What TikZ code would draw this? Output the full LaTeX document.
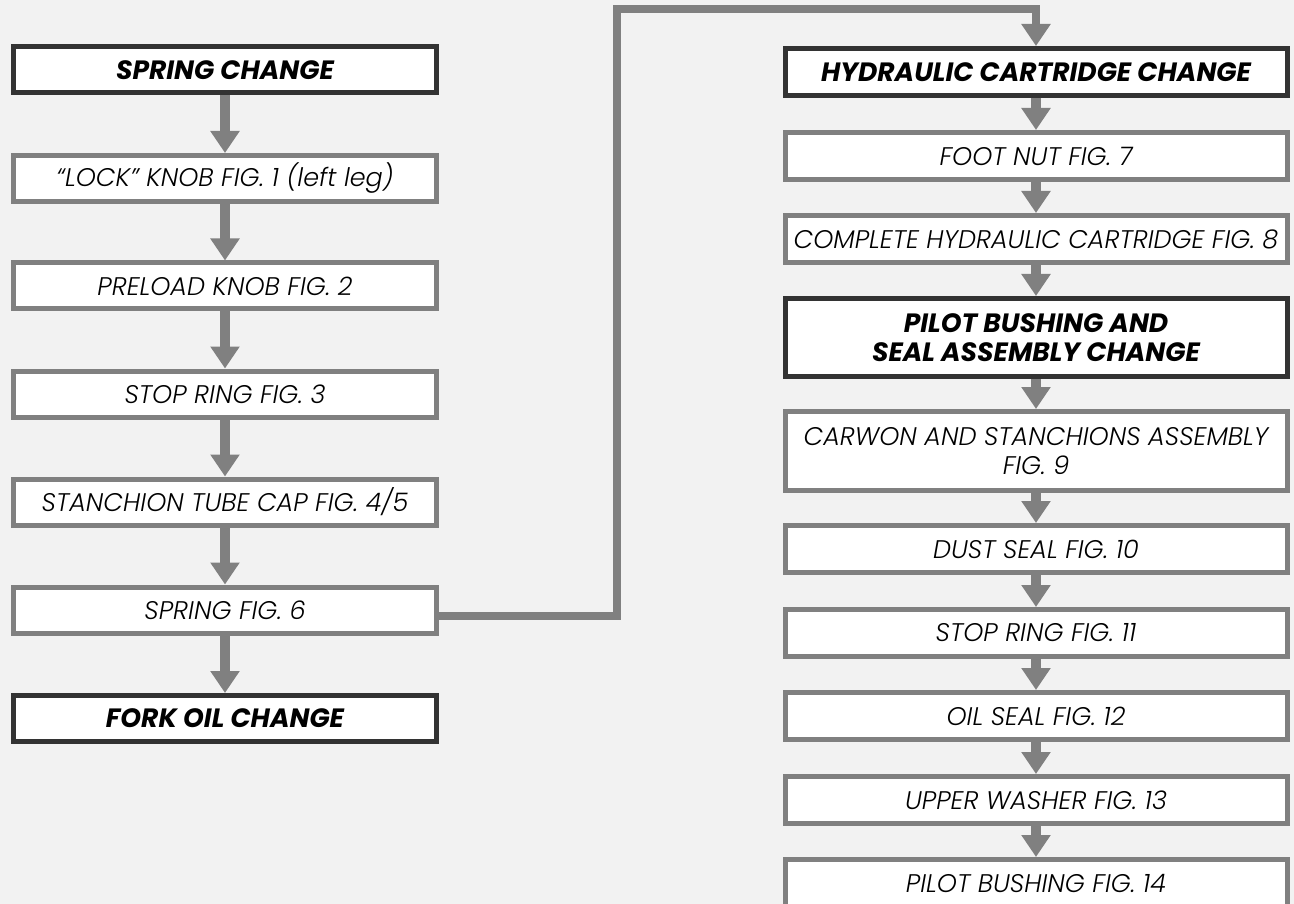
\documentclass[tikz,border=0pt]{standalone}
\usepackage{fontspec}
\usetikzlibrary{arrows.meta}
\IfFontExistsTF{Poppins Light Italic}{%
  \setmainfont{Poppins}[ItalicFont={Poppins Light Italic},BoldItalicFont={Poppins Bold Italic}]%
}{%
  \setmainfont{Poppins}%
}
\definecolor{bgcol}{HTML}{F2F2F2}
\definecolor{boxgray}{HTML}{808080}
\definecolor{boxdark}{HTML}{333333}
\definecolor{arrgray}{HTML}{808080}
\tikzset{
  stepbox/.style={draw=boxgray, fill=white, line width=5pt, inner sep=0pt, align=center,
    font=\fontsize{25.5}{29}\selectfont\itshape},
  headbox/.style={stepbox, draw=boxdark, font=\fontsize{26.5}{29}\selectfont\bfseries\itshape},
  leftcol/.style={minimum width=423pt, minimum height=46pt},
  rightcol/.style={minimum width=502pt, minimum height=47pt},
  arr/.style={draw=arrgray, line width=10pt, -{Triangle[width=28pt,length=22pt]}},
  conn/.style={draw=arrgray, line width=8pt, -{Triangle[width=28pt,length=22pt]}},
}
\begin{document}
\begin{tikzpicture}[x=1pt,y=-1pt]
\path[use as bounding box, fill=bgcol] (0,0) rectangle (1294,904);
\clip (0,0) rectangle (1294,904);
% left column
\node[headbox,leftcol] (sc) at (225,70) {SPRING CHANGE};
\node[stepbox,leftcol] (l1) at (225,178.5) {“LOCK” KNOB FIG. 1 (left leg)};
\node[stepbox,leftcol] (l2) at (225,286) {PRELOAD KNOB FIG. 2};
\node[stepbox,leftcol] (l3) at (225,394) {STOP RING FIG. 3};
\node[stepbox,leftcol] (l4) at (225,502) {STANCHION TUBE CAP FIG. 4/5};
\node[stepbox,leftcol] (l5) at (225,610) {SPRING FIG. 6};
\node[headbox,leftcol] (fo) at (225,718.5) {FORK OIL CHANGE};
% right column
\node[headbox,rightcol] (hc) at (1036,72) {HYDRAULIC CARTRIDGE CHANGE};
\node[stepbox,rightcol] (r1) at (1036,156) {FOOT NUT FIG. 7};
\node[stepbox,rightcol] (r2) at (1036,239) {COMPLETE HYDRAULIC CARTRIDGE FIG. 8};
\node[headbox,rightcol,minimum height=78pt] (pb) at (1036,337.5) {PILOT BUSHING AND\\SEAL ASSEMBLY CHANGE};
\node[stepbox,rightcol,minimum height=79pt] (r3) at (1036,451) {CARWON AND STANCHIONS ASSEMBLY\\FIG. 9};
\node[stepbox,rightcol] (r4) at (1036,549) {DUST SEAL FIG. 10};
\node[stepbox,rightcol] (r5) at (1036,633) {STOP RING FIG. 11};
\node[stepbox,rightcol] (r6) at (1036,716) {OIL SEAL FIG. 12};
\node[stepbox,rightcol] (r7) at (1036,800) {UPPER WASHER FIG. 13};
\node[stepbox,rightcol] (r8) at (1036,883) {PILOT BUSHING FIG. 14};
% arrows
\foreach \a/\b in {sc/l1,l1/l2,l2/l3,l3/l4,l4/l5,l5/fo,hc/r1,r1/r2,r2/pb,pb/r3,r3/r4,r4/r5,r5/r6,r6/r7,r7/r8}
  \draw[arr] (\a.south) -- (\b.north);
% elbow connector
\coordinate (c1) at (617,615.5);
\coordinate (c2) at (617,9);
\draw[conn, line join=miter] (l5.east |- c1) -- (c1) -- (c2) -| (hc.north);
\end{tikzpicture}
\end{document}
